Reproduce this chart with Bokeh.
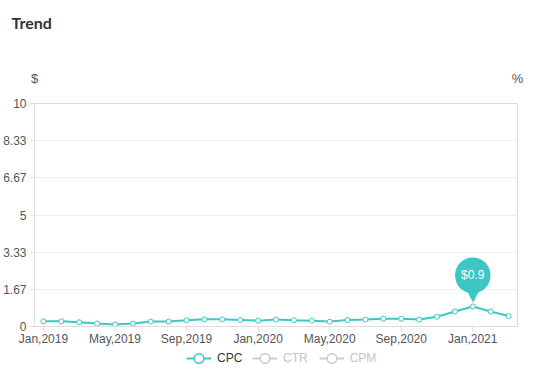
from bokeh.plotting import figure
from bokeh.layouts import column
from bokeh.models import Range1d, FixedTicker, Label, Legend, LegendItem, NumeralTickFormatter, LinearAxis
from bokeh.embed import file_html
from bokeh.resources import INLINE

months = ["Jan,2019", "Feb,2019", "Mar,2019", "Apr,2019", "May,2019", "Jun,2019",
          "Jul,2019", "Aug,2019", "Sep,2019", "Oct,2019", "Nov,2019", "Dec,2019",
          "Jan,2020", "Feb,2020", "Mar,2020", "Apr,2020", "May,2020", "Jun,2020",
          "Jul,2020", "Aug,2020", "Sep,2020", "Oct,2020", "Nov,2020", "Dec,2020",
          "Jan,2021", "Feb,2021", "Mar,2021"]
cpc = [0.23, 0.23, 0.19, 0.13, 0.09, 0.13, 0.22, 0.22, 0.28, 0.32, 0.32, 0.29,
       0.26, 0.31, 0.28, 0.26, 0.22, 0.29, 0.31, 0.35, 0.35, 0.31, 0.44, 0.67,
       0.90, 0.67, 0.47]
series_names = ["CPC", "CTR", "CPM"]   # CTR and CPM are switched off (not drawn)
y_ticks = [0, 1.67, 3.33, 5, 6.67, 8.33, 10]
x_tick_step = 4
units = ["$", "%"]

TEAL = "#3cc7c4"
OFF = "#cccccc"
FONT = "Liberation Sans"
NAN = float("nan")

x = list(range(len(months)))

p = figure(width=539, height=348,
           x_range=Range1d(-0.5, len(months) - 0.5),
           y_range=Range1d(y_ticks[0], y_ticks[-1]),
           output_backend="svg", toolbar_location=None,
           min_border_left=31, min_border_right=14, min_border_top=0, min_border_bottom=0)

p.title.text = "Trend"
p.title.text_font = "Lato"
p.title.text_font_size = "16px"
p.title.text_font_style = "bold"
p.title.text_color = "#333333"
p.title.align = "left"
p.title.offset = -23
p.title.standoff = 20

bottom_axis = p.xaxis[0]
left_axis = p.yaxis[0]

# unit labels as a bare axis above the frame
top_axis = LinearAxis(ticker=FixedTicker(ticks=[p.x_range.start, p.x_range.end]),
                      major_label_overrides={p.x_range.start: units[0], p.x_range.end: units[1]},
                      axis_line_color=None, major_tick_line_color=None, minor_tick_line_color=None,
                      major_label_standoff=12, major_label_text_color="#555555",
                      major_label_text_font=FONT, major_label_text_font_size="13px",
                      axis_label=" ", axis_label_standoff=8,
                      axis_label_text_font=FONT, axis_label_text_font_size="13px")
p.add_layout(top_axis, "above")

left_axis.ticker = FixedTicker(ticks=y_ticks)
left_axis.formatter = NumeralTickFormatter(format="0.[00]")
bottom_axis.ticker = FixedTicker(ticks=x[::x_tick_step])
bottom_axis.major_label_overrides = {i: months[i] for i in x[::x_tick_step]}
for ax in (bottom_axis, left_axis):
    ax.axis_line_color = "#dddddd"
    ax.major_tick_line_color = "#dddddd"
    ax.minor_tick_line_color = None
    ax.major_tick_in = 0
    ax.major_label_text_color = "#555555"
    ax.major_label_text_font = FONT
    ax.major_label_text_font_size = "12px"
left_axis.major_tick_out = 4
left_axis.major_label_standoff = 4
bottom_axis.major_tick_out = 5
bottom_axis.major_label_standoff = 0

p.xgrid.grid_line_color = None
p.ygrid.grid_line_color = "#eeeeee"
p.outline_line_color = "#dddddd"

# CPC series
p.line(x, cpc, line_color=TEAL, line_width=2)
p.scatter(x, cpc, size=5, fill_color="white", line_color=TEAL, line_width=1)

# pin on peak
peak = cpc.index(max(cpc))
p.add_layout(Label(x=peak, y=cpc[peak], y_offset=2, text="\u25bc", text_align="center",
                   text_baseline="bottom", text_color=TEAL, text_font="DejaVu Sans",
                   text_font_size="14px"))
p.add_layout(Label(x=peak, y=cpc[peak], y_offset=31, text=f"${cpc[peak]:g}",
                   text_align="center", text_baseline="middle", text_color="white",
                   text_font=FONT, text_font_size="12px",
                   background_fill_color=TEAL, border_radius=18,
                   padding=dict(left=6, right=6, top=11, bottom=11)))

# legend strip (proxies carry no values)
lf = figure(width=539, height=22, x_range=Range1d(0, 1), y_range=Range1d(0, 1),
            output_backend="svg", toolbar_location=None,
            min_border_left=31, min_border_right=22, min_border_top=0, min_border_bottom=0)
lf.axis.visible = False
lf.grid.visible = False
lf.outline_line_color = None

def proxy(color):
    ln = lf.line([NAN], [NAN], line_color=color, line_width=2)
    mk = lf.scatter([NAN], [NAN], size=10, fill_color="white", line_color=color, line_width=1.5)
    return [ln, mk]

common = dict(orientation="horizontal", border_line_color=None, background_fill_alpha=0,
              label_text_font=FONT, label_text_font_size="12px",
              glyph_width=25, glyph_height=24, spacing=11, label_standoff=6,
              padding=0, margin=0)
leg_on = Legend(items=[LegendItem(label=series_names[0], renderers=proxy(TEAL))],
                location=(152, 0), label_text_color="#333333", **common)
leg_off = Legend(items=[LegendItem(label=n, renderers=proxy(OFF)) for n in series_names[1:]],
                 location=(218, 0), label_text_color="#c4c4c4", **common)
lf.add_layout(leg_on)
lf.add_layout(leg_off)

layout = column(p, lf, spacing=0)
open("out.html", "w").write(file_html(layout, INLINE))
